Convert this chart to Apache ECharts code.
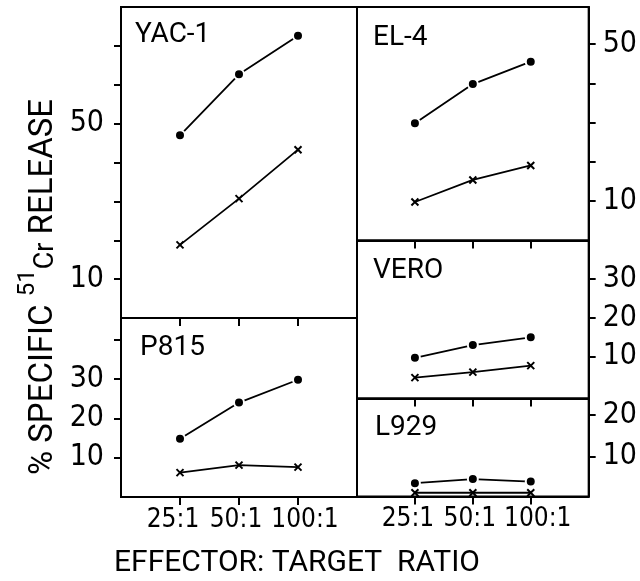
<!DOCTYPE html>
<html>
<head>
<meta charset="utf-8">
<script src="https://cdn.jsdelivr.net/npm/echarts@6/dist/echarts.min.js"></script>
<style>html,body{margin:0;padding:0;background:#fff}#c{width:640px;height:581px}</style>
</head>
<body>
<div id="c"></div>
<script>
// categories (effector : target ratios), placed at positions 1..3 of each panel
const ratios = ['25:1', '50:1', '100:1'];

// series values (% specific 51Cr release)
const yac1Dot = [47.0, 62.7, 72.6];
const yac1Cross = [18.8, 30.7, 43.3];
const p815Dot = [14.8, 24.0, 29.8];
const p815Cross = [6.2, 8.1, 7.6];
const el4Dot = [29.8, 39.8, 45.5];
const el4Cross = [9.8, 15.4, 19.1];
const veroDot = [9.7, 13.0, 15.0];
const veroCross = [4.6, 6.0, 7.7];
const l929Dot = [3.6, 4.6, 4.0];
const l929Cross = [1.3, 1.3, 1.3];

// tick values and tick labels
const yac1Ticks = [10, 20, 30, 40, 50, 60, 70];
const yac1Labels = [10, 50];
const p815Ticks = [10, 20, 30, 40];
const p815Labels = [10, 20, 30];
const el4Ticks = [10, 20, 30, 40, 50];
const el4Labels = [10, 50];
const veroTicks = [10, 20, 30];
const veroLabels = [10, 20, 30];
const l929Ticks = [10, 20];
const l929Labels = [10, 20];

const panelNames = ['YAC-1', 'P815', 'EL-4', 'VERO', 'L929'];
const yTitle = '% SPECIFIC ';
const yTitleIso = '51';
const yTitleEl = 'Cr';
const yTitleEnd = ' RELEASE';
const xTitle = 'EFFECTOR: TARGET  RATIO';

const FONT = 'Roboto';
const NARROW = "'Liberation Sans Narrow', 'Arial Narrow', 'DejaVu Sans Condensed', Roboto";
const chart = echarts.init(document.getElementById('c'), null, {renderer: 'canvas'});

const panels = [
  {grid: {left: 121, top: 7, width: 236, height: 311}, min: 0, max: 80, ticks: yac1Ticks, labels: yac1Labels, side: 'left', xl: false, dot: yac1Dot, cross: yac1Cross},
  {grid: {left: 121, top: 318, width: 236, height: 179}, min: 0, max: 45.5, ticks: p815Ticks, labels: p815Labels, side: 'left', xl: true, dot: p815Dot, cross: p815Cross},
  {grid: {left: 357, top: 7, width: 235, height: 233.5}, min: 0, max: 59.4, ticks: el4Ticks, labels: el4Labels, side: 'right', xl: false, dot: el4Dot, cross: el4Cross},
  {grid: {left: 357, top: 240.5, width: 235, height: 158}, min: -0.8, max: 40, ticks: veroTicks, labels: veroLabels, side: 'right', xl: false, dot: veroDot, cross: veroCross},
  {grid: {left: 357, top: 398.5, width: 235, height: 98}, min: 0.4, max: 24, ticks: l929Ticks, labels: l929Labels, side: 'right', xl: true, dot: l929Dot, cross: l929Cross}
];

const titlePos = [[135, 35], [140, 348], [373, 37.5], [373, 271], [375, 428]];
const xPos = [1, 2, 3];
const labelShift = ['{a|', '{b|', '{c|'];

const grids = [], xAxes = [], yAxes = [], series = [], graphics = [];
panels.forEach((p, i) => {
  grids.push(Object.assign({show: true, borderColor: '#000', borderWidth: 2}, p.grid));
  xAxes.push({
    type: 'value', gridIndex: i, min: 0, max: 4,
    axisLine: {show: true, onZero: false, lineStyle: {color: '#000', width: 2}},
    axisTick: {show: true, inside: false, length: 8, lineStyle: {color: '#000', width: 2}, customValues: xPos},
    axisLabel: {show: p.xl, customValues: xPos, margin: 10, showMinLabel: true, showMaxLabel: true,
      formatter: v => labelShift[v - 1] + ratios[v - 1] + '}',
      rich: {
        a: {fontFamily: NARROW, fontSize: 26, color: '#000', padding: [0, 14, 0, 0]},
        b: {fontFamily: NARROW, fontSize: 26, color: '#000', padding: [0, 6, 0, 0]},
        c: {fontFamily: NARROW, fontSize: 26, color: '#000', padding: [0, 0, 0, 14]}
      },
      color: '#000', fontFamily: NARROW, fontSize: 26},
    splitLine: {show: false}
  });
  yAxes.push({
    type: 'value', gridIndex: i, min: p.min, max: p.max, position: p.side,
    axisLine: {show: true, onZero: false, lineStyle: {color: '#000', width: 2}},
    axisTick: {show: true, inside: false, length: 7, lineStyle: {color: '#000', width: 2}, customValues: p.ticks},
    axisLabel: {show: true, customValues: p.labels, margin: p.side === 'left' ? 17 : 14,
      color: '#000', fontFamily: NARROW, fontSize: 30},
    splitLine: {show: false}
  });
  series.push({
    type: 'line', xAxisIndex: i, yAxisIndex: i,
    data: p.dot.map((v, k) => [xPos[k], v]),
    symbol: 'circle', symbolSize: 10,
    itemStyle: {color: '#000', borderColor: '#fff', borderWidth: 2},
    lineStyle: {color: '#000', width: 1.8}, z: 3
  });
  series.push({
    type: 'line', xAxisIndex: i, yAxisIndex: i,
    data: p.cross.map((v, k) => [xPos[k], v]),
    symbol: 'path://M0,0L10,10M0,10L10,0', symbolSize: 7,
    itemStyle: {color: '#000', borderColor: '#000', borderWidth: 2},
    lineStyle: {color: '#000', width: 1.8}, z: 3
  });
  graphics.push({type: 'text', x: titlePos[i][0], y: titlePos[i][1], z: 10,
    style: {text: panelNames[i], align: 'left', verticalAlign: 'middle', fill: '#000', fontFamily: FONT, fontSize: 28}});
});

graphics.push(
  {type: 'text', x: 38, y: 287, rotation: Math.PI / 2,
    style: {text: '{m|' + yTitle + '}{s|' + yTitleIso + '}{c|' + yTitleEl + '}{m|' + yTitleEnd + '}',
      align: 'center', verticalAlign: 'middle', fill: '#000', fontFamily: FONT, fontSize: 33,
      rich: {
        m: {fontFamily: FONT, fontSize: 33, lineHeight: 44, verticalAlign: 'bottom'},
        s: {fontFamily: FONT, fontSize: 24, lineHeight: 44, verticalAlign: 'top'},
        c: {fontFamily: FONT, fontSize: 27, lineHeight: 44, verticalAlign: 'bottom'}
      }}},
  {type: 'text', x: 297, y: 563,
    style: {text: xTitle, align: 'center', verticalAlign: 'middle', fill: '#000', fontFamily: FONT, fontSize: 30}}
);

chart.setOption({
  animation: false,
  backgroundColor: '#fff',
  grid: grids,
  xAxis: xAxes,
  yAxis: yAxes,
  series: series,
  graphic: graphics
});
</script>
</body>
</html>
